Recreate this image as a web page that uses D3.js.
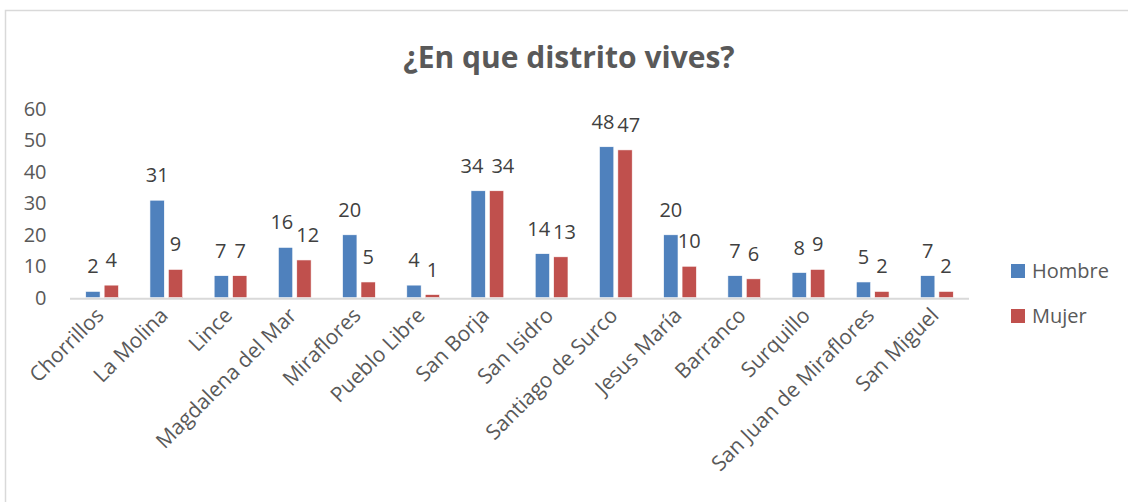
<!DOCTYPE html>
<html>
<head>
<meta charset="utf-8">
<script src="https://cdn.jsdelivr.net/npm/d3@7"></script>
<style>
  body { margin: 0; background: #fff; }
  svg { display: block; font-family: "Open Sans", sans-serif; }
</style>
</head>
<body>
<svg id="chart" width="1128" height="502"></svg>
<script>
const districts = ["Chorrillos", "La Molina", "Lince", "Magdalena del Mar", "Miraflores",
  "Pueblo Libre", "San Borja", "San Isidro", "Santiago de Surco", "Jesus María",
  "Barranco", "Surquillo", "San Juan de Miraflores", "San Miguel"]
const hombre = [2, 31, 7, 16, 20, 4, 34, 14, 48, 20, 7, 8, 5, 7]
const mujer = [4, 9, 7, 12, 5, 1, 34, 13, 47, 10, 6, 9, 2, 2]
const seriesNames = ["Hombre", "Mujer"]
const colorBars = ["#4F81BD", "#C0504D"]
const yTicks = [0, 10, 20, 30, 40, 50, 60]

const width = 1128, height = 502
const margin = { top: 109, right: 159, bottom: 204.3, left: 70 }

const svg = d3.select("#chart")

// chart frame (only left + top visible in the picture)
svg.append("rect")
  .attr("x", 5.5).attr("y", 10.5)
  .attr("width", 1200).attr("height", 600)
  .attr("fill", "none").attr("stroke", "#d9d9d9").attr("stroke-width", 1.5)

svg.append("text")
  .attr("x", 569).attr("y", 68)
  .attr("text-anchor", "middle")
  .style("font-size", "30px").style("font-weight", "bold")
  .attr("fill", "#595959")
  .text("¿En que distrito vives?")

const x = d3.scaleBand()
  .domain(districts)
  .range([margin.left, width - margin.right])
  .paddingInner(0.49)
  .paddingOuter(0.245)

const xSub = d3.scaleBand()
  .domain(seriesNames)
  .range([0, x.bandwidth()])
  .paddingInner(0.22)

const y = d3.scaleLinear()
  .domain([0, 60])
  .range([height - margin.bottom, margin.top])

// y axis labels, no line
svg.append("g")
  .selectAll("text")
  .data(yTicks)
  .join("text")
  .attr("x", 46.5)
  .attr("y", d => y(d))
  .attr("dy", "0.35em")
  .attr("text-anchor", "end")
  .style("font-size", "20px")
  .attr("fill", "#595959")
  .text(d => d)

const rows = districts.map((d, i) => ({ district: d, values: [hombre[i], mujer[i]] }))

const groups = svg.append("g")
  .selectAll("g")
  .data(rows)
  .join("g")
  .attr("transform", d => `translate(${x(d.district)},0)`)

groups.selectAll("rect")
  .data(d => d.values.map((v, k) => ({ key: seriesNames[k], value: v, k })))
  .join("rect")
  .attr("x", d => xSub(d.key))
  .attr("y", d => y(d.value))
  .attr("width", xSub.bandwidth())
  .attr("height", d => y(0) - y(d.value))
  .attr("fill", d => colorBars[d.k])
  .attr("stroke", "#fff")
  .attr("stroke-width", 0.6)

// category axis line
svg.append("line")
  .attr("x1", margin.left).attr("x2", width - margin.right)
  .attr("y1", y(0) + 1).attr("y2", y(0) + 1)
  .attr("stroke", "#d9d9d9").attr("stroke-width", 2)

// data labels, pushed apart when the pair would overlap
groups.each(function(d) {
  const g = d3.select(this)
  const labels = d.values.map((v, k) => {
    const t = g.append("text")
      .attr("text-anchor", "middle")
      .style("font-size", "20px")
      .attr("fill", "#404040")
      .text(v)
    return { t, cx: xSub(seriesNames[k]) + xSub.bandwidth() / 2, cy: y(v) - 25, w: t.node().getComputedTextLength() }
  })
  const [a, b] = labels
  const dy = Math.abs(a.cy - b.cy)
  if (dy < 16) {
    const need = (a.w + b.w) / 2 + (dy < 3 ? 8 : 3)
    const gap = b.cx - a.cx
    if (gap < need) {
      const s = (need - gap) / 2
      a.cx -= s
      b.cx += s
    }
  }
  labels.forEach(l => l.t.attr("x", l.cx).attr("y", l.cy).attr("dy", "0.35em"))
})

// category labels rotated
svg.append("g")
  .selectAll("text")
  .data(districts)
  .join("text")
  .attr("transform", d => `translate(${x(d) + x.bandwidth() / 2 + 3},${y(0) + 19}) rotate(-45)`)
  .attr("text-anchor", "end")
  .style("font-size", "21px")
  .attr("fill", "#595959")
  .text(d => d)

// legend
const legend = svg.append("g")
  .selectAll("g")
  .data(seriesNames)
  .join("g")
  .attr("transform", (d, i) => `translate(1011,${264 + i * 45})`)

legend.append("rect")
  .attr("width", 14).attr("height", 14)
  .attr("fill", (d, i) => colorBars[i])

legend.append("text")
  .attr("x", 21).attr("y", 7)
  .attr("dy", "0.35em")
  .style("font-size", "20px")
  .attr("fill", "#595959")
  .text(d => d)
</script>
</body>
</html>
